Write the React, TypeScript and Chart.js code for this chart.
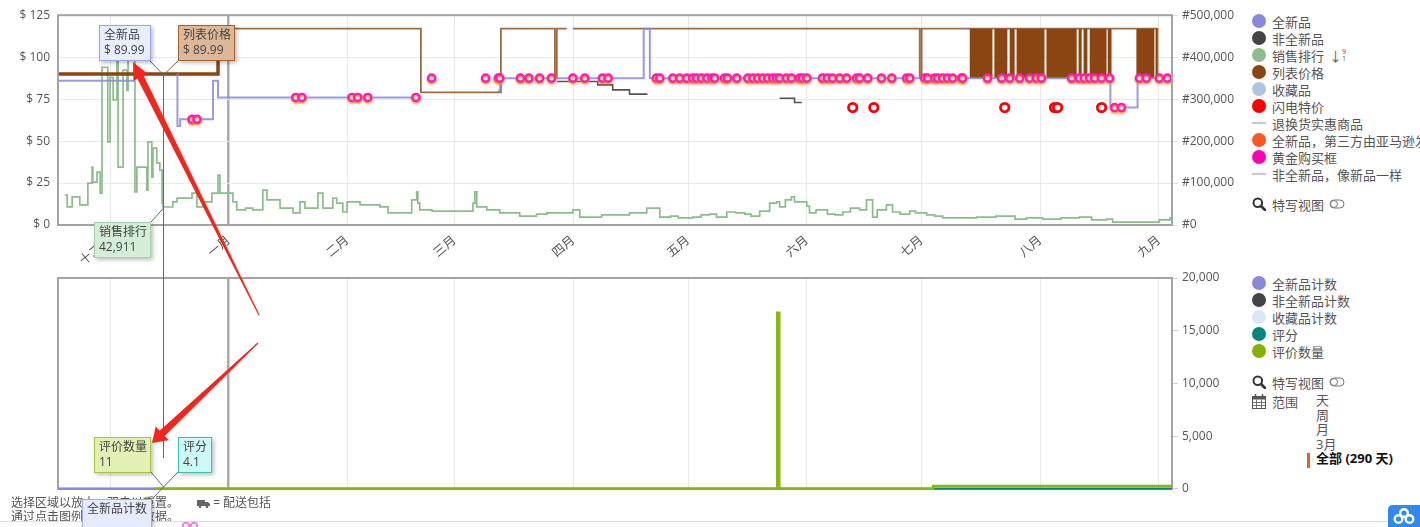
import React, { useEffect, useRef } from "react";
import { Chart, registerables } from "chart.js";

Chart.register(...registerables);

// ------------------------------------------------------------------ data
const TOTAL_DAYS = 291;
const MONTH_TICK_DAYS = [13.6, 44.6, 75.6, 103.6, 134.6, 164.6, 195.6, 225.6, 256.6, 287.6];
const MONTH_LABELS = ["十二月", "一月", "二月", "三月", "四月", "五月", "六月", "七月", "八月", "九月"];
const YEAR_BOUNDARY_DAY = 44.6;

const PRICE_TICKS = [0, 25, 50, 75, 100, 125];
const RANK_TICKS = [0, 100000, 200000, 300000, 400000, 500000];
const COUNT_TICKS = [0, 5000, 10000, 15000, 20000];

// 全新品 (new) price, step series, null = no offer
const NEW_PRICE_DAYS = [0, 20.1, 20.2, 31.1, 31.2, 31.9, 40.5, 41.8, 94.6, 94.7, 114.9, 115.5, 153.0, 154.6, 274.9, 282.0, 291];
const NEW_PRICE_VALUES = [85.99, 85.99, null, 89.99, 58.99, 62.99, 85.99, 75.99, 75.99, null, 79.99, 87.49, 116.99, 87.49, 69.99, 87.49, 87.49];

// 列表价格 (list price)
const LIST_PRICE_DAYS = [0, 41.8, 94.8, 115.7, 129.8, 130.3, 132.9, 133.0, 134.5, 225.1, 225.6, 287.2, 291];
const LIST_PRICE_VALUES = [89.99, 116.99, 78.99, 116.99, 87.49, 116.99, 116.99, null, 116.99, 87.49, 116.99, 87.49, 87.49];

// 列表价格 rapid flip-flop period
const LIST_FLIP_DAYS = [238.1, 244.1, 244.6, 248.0, 248.6, 249.9, 250.4, 257.7, 258.2, 266.1, 266.6, 267.4, 267.9, 268.9, 269.5, 273.9, 274.2, 275.2, 281.7, 286.4, 286.7, 287.2];
const LIST_FLIP_VALUES = [116.99, 87.49, 116.99, 87.49, 116.99, 87.49, 116.99, 87.49, 116.99, 87.49, 116.99, 87.49, 116.99, 87.49, 116.99, 87.49, 116.99, 87.49, 116.99, 87.49, 116.99, 87.49];
const LIST_FLIP_FLOOR = 87.49;

// 非全新品 (used)
const USED_DAYS = [130.3, 141.0, 144.9, 149.3, 154.0, 154.1, 188.5, 192.4, 194.3];
const USED_VALUES = [85.49, 83.49, 80.49, 77.99, 77.99, null, 75.49, 72.99, 72.99];

// 黄金购买框 (buy box) points, grouped by price
const BUYBOX_LOW_PRICE = 62.99;
const BUYBOX_LOW_DAYS = [35.0, 36.3];
const BUYBOX_MID_PRICE = 75.99;
const BUYBOX_MID_DAYS = [62.1, 63.7, 76.8, 78.3, 80.9, 93.5];
const BUYBOX_HIGH_PRICE = 87.49;
const BUYBOX_HIGH_DAYS = [97.6, 111.7, 115.0, 115.4, 120.8, 123.0, 125.8, 128.9, 134.5, 137.6, 142.2, 143.7, 156.3, 157.2, 160.6, 162.4, 164.2, 165.8, 166.8, 168.1, 169.5, 170.8, 171.5, 174.1, 174.9, 177.3, 180.2, 181.5, 182.8, 184.1, 185.4, 186.7, 187.7, 188.5, 190.3, 191.6, 193.7, 194.5, 195.6, 199.7, 201.0, 202.3, 204.2, 206.0, 208.6, 209.4, 211.5, 215.1, 217.8, 221.7, 222.5, 226.4, 227.2, 229.0, 229.8, 231.1, 232.4, 233.7, 236.0, 236.3, 242.8, 246.5, 248.6, 251.2, 253.8, 255.6, 256.9, 264.8, 266.8, 268.1, 269.5, 270.8, 272.6, 274.7, 282.5, 284.3, 287.7, 289.8];
const BUYBOX_DIP_PRICE = 69.99;
const BUYBOX_DIP_DAYS = [276.0, 277.8];

// 闪电特价 (lightning deals)
const LIGHTNING_PRICE = 69.99;
const LIGHTNING_DAYS = [207.6, 213.1, 247.3, 260.3, 261.1, 272.6];

// 销售排行 (sales rank)
const RANK_DAYS = [1.8, 2.4, 3.7, 5.7, 7.8, 8.9, 9.1, 10.2, 11.0, 11.5, 13.0, 13.6, 14.4, 15.4, 15.7, 17.0, 18.0, 18.3, 19.6, 20.1, 20.6, 23.2, 23.5, 24.5, 24.8, 25.8, 26.6, 27.2, 27.4, 30.0, 31.1, 35.0, 36.3, 37.9, 40.2, 41.8, 42.3, 45.7, 46.7, 49.0, 50.9, 53.5, 54.6, 58.0, 61.4, 63.2, 64.5, 67.9, 69.2, 71.8, 72.8, 74.4, 75.5, 78.9, 84.1, 86.2, 92.4, 93.7, 94.0, 94.5, 97.7, 108.4, 108.9, 109.4, 112.0, 115.4, 120.6, 125.0, 127.7, 134.5, 136.3, 142.0, 149.3, 153.8, 157.2, 160.0, 162.0, 165.8, 168.0, 170.2, 172.0, 174.7, 177.0, 179.4, 181.0, 183.3, 185.9, 187.7, 188.5, 190.0, 191.6, 192.4, 195.6, 196.3, 198.0, 201.0, 203.0, 205.0, 207.0, 209.4, 211.2, 212.8, 214.0, 216.4, 218.0, 220.0, 222.5, 224.0, 226.9, 229.0, 231.1, 235.0, 240.0, 245.0, 250.0, 253.0, 257.2, 262.0, 266.8, 270.0, 273.9, 275.5, 283.3, 287.7, 290.5, 291];
const RANK_VALUES = [71000, 43000, 67000, 48000, 100000, 138000, 102000, 126000, 76000, 376000, 198000, 352000, 298000, 393000, 138000, 369000, 321000, 410000, 400000, 79000, 138000, 83000, 198000, 114000, 183000, 148000, 131000, 52000, 42911, 55000, 64000, 76000, 43000, 55000, 76000, 119000, 76000, 55000, 36000, 40000, 36000, 83000, 60000, 40000, 29000, 55000, 40000, 76000, 40000, 64000, 52000, 31000, 55000, 48000, 43000, 29000, 60000, 79000, 52000, 36000, 33000, 52000, 79000, 43000, 36000, 29000, 21000, 26000, 29000, 36000, 19000, 24000, 29000, 40000, 19000, 21000, 17000, 19000, 24000, 26000, 19000, 31000, 29000, 26000, 21000, 33000, 52000, 55000, 43000, 60000, 67000, 55000, 45000, 29000, 36000, 26000, 24000, 31000, 40000, 36000, 60000, 19000, 36000, 48000, 31000, 26000, 33000, 29000, 24000, 21000, 17000, 17000, 19000, 21000, 14000, 17000, 14000, 17000, 19000, 12000, 14000, 7000, 7000, 12000, 17000, 17000];

// lower chart: 评价数量 / 评分 / 全新品计数
const REVIEW_DAYS = [25.3, 187.9, 188.4, 228.6, 291];
const REVIEW_COUNTS = [11, 16700, 11, 250, 250];
const RATING_DAYS = [25.3, 291];
const RATING_VALUES = [4.1, 4.1];
const NEW_COUNT_DAYS = [0, 291];
const NEW_COUNT_VALUES = [3, 3];

// ------------------------------------------------------------------ helpers
const FONT = '"Open Sans", "Noto Sans CJK SC", sans-serif';
Chart.defaults.font.family = FONT;
Chart.defaults.font.size = 12;
Chart.defaults.color = "#555";

const pts = (days: number[], vals: (number | null)[]) => days.map((d, i) => ({ x: d, y: vals[i] }));
const flat = (days: number[], v: number) => days.map((d) => ({ x: d, y: v }));

const drawFrame = (chart: any) => {
  const { ctx, chartArea: a } = chart;
  ctx.save();
  ctx.strokeStyle = "#a3a3a3";
  ctx.lineWidth = 2;
  ctx.strokeRect(a.left, a.top, a.right - a.left, a.bottom - a.top);
  ctx.restore();
};
const frameOver = { id: "frameOver", afterDraw: drawFrame };
const frameUnder = { id: "frameUnder", beforeDatasetsDraw: drawFrame };

const glow = {
  id: "glow",
  beforeDatasetDraw(chart: any, args: any) {
    const ds = chart.data.datasets[args.index];
    if (ds.glow) {
      const c = chart.ctx;
      c.save();
      c.shadowColor = ds.glow;
      c.shadowOffsetY = 1.5;
      c.shadowBlur = 2;
    }
  },
  afterDatasetDraw(chart: any, args: any) {
    const ds = chart.data.datasets[args.index];
    if (ds.glow) chart.ctx.restore();
  },
};

const monthAxis = (showLabels: boolean, height: number) => ({
  type: "linear",
  min: 0,
  max: TOTAL_DAYS,
  afterBuildTicks: (s: any) => {
    s.ticks = MONTH_TICK_DAYS.map((v) => ({ value: v }));
  },
  afterFit: (s: any) => {
    s.height = height;
  },
  ticks: {
    display: showLabels,
    autoSkip: false,
    minRotation: 40,
    maxRotation: 40,
    padding: 8,
    color: "#555",
    font: { size: 12.5 },
    callback: (v: any) => {
      const i = MONTH_TICK_DAYS.indexOf(v);
      return i >= 0 ? MONTH_LABELS[i] : "";
    },
  },
  grid: {
    drawTicks: false,
    color: (c: any) => (c.tick && c.tick.value === YEAR_BOUNDARY_DAY ? "#ababab" : "#e8e8e8"),
    lineWidth: (c: any) => (c.tick && c.tick.value === YEAR_BOUNDARY_DAY ? 2.5 : 1),
  },
  border: { display: false },
});

const stepLine = (data: any[], color: string, width: number, axis: string, extra: any = {}) => ({
  type: "line",
  data,
  yAxisID: axis,
  borderColor: color,
  borderWidth: width,
  stepped: true,
  pointRadius: 0,
  pointHoverRadius: 0,
  fill: false,
  spanGaps: false,
  ...extra,
});

const markers = (data: any[], color: string, radius: number, bw: number, extra: any = {}) => ({
  type: "line",
  data,
  yAxisID: "y",
  showLine: false,
  pointRadius: radius,
  pointBorderWidth: bw,
  pointBorderColor: color,
  pointBackgroundColor: "#ffffff",
  borderColor: color,
  backgroundColor: "#ffffff",
  ...extra,
});

// ------------------------------------------------------------------ charts
function PriceChart() {
  const ref = useRef<HTMLCanvasElement>(null);
  useEffect(() => {
    const buyBox = [
      ...flat(BUYBOX_LOW_DAYS, BUYBOX_LOW_PRICE),
      ...flat(BUYBOX_MID_DAYS, BUYBOX_MID_PRICE),
      ...flat(BUYBOX_HIGH_DAYS, BUYBOX_HIGH_PRICE),
      ...flat(BUYBOX_DIP_DAYS, BUYBOX_DIP_PRICE),
    ];
    const chart = new Chart(ref.current as any, {
      type: "line",
      data: {
        datasets: [
          markers(buyBox, "#ff1cb0", 3.6, 2.4, { glow: "rgba(255,140,40,0.9)" }),
          markers(flat(LIGHTNING_DAYS, LIGHTNING_PRICE), "#ff0000", 4.2, 2.8),
          stepLine(pts(NEW_PRICE_DAYS, NEW_PRICE_VALUES), "rgba(136,136,221,0.85)", 2, "y"),
          stepLine(pts(USED_DAYS, USED_VALUES), "#555555", 1.6, "y"),
          stepLine(pts(LIST_PRICE_DAYS, LIST_PRICE_VALUES), "rgba(139,69,19,0.8)", 1.8, "y", {
            segment: {
              borderWidth: (c: any) => (c.p0.parsed.x < 41 ? 3.5 : undefined),
              borderColor: (c: any) => (c.p0.parsed.x < 41 ? "#8b4513" : undefined),
            },
          }),
          stepLine(pts(LIST_FLIP_DAYS, LIST_FLIP_VALUES), "#8b4513", 0, "y", {
            fill: { target: { value: LIST_FLIP_FLOOR } },
            backgroundColor: "#8b4513",
          }),
          stepLine(pts(RANK_DAYS, RANK_VALUES), "rgba(134,184,134,0.95)", 1.7, "yR"),
        ] as any,
      },
      options: {
        responsive: false,
        animation: false,
        events: [],
        layout: { padding: { top: 15, left: 0, right: 0, bottom: 0 } },
        plugins: { legend: { display: false }, tooltip: { enabled: false } },
        scales: {
          x: monthAxis(true, 40) as any,
          y: {
            position: "left",
            min: 0,
            max: 125,
            afterBuildTicks: (s: any) => {
              s.ticks = PRICE_TICKS.map((v) => ({ value: v }));
            },
            afterFit: (s: any) => {
              s.width = 58;
            },
            ticks: { padding: 8, color: "#555", callback: (v: any) => "$ " + v },
            grid: { drawTicks: false, color: "#e8e8e8" },
            border: { display: false },
          },
          yR: {
            position: "right",
            min: 0,
            max: 500000,
            afterBuildTicks: (s: any) => {
              s.ticks = RANK_TICKS.map((v) => ({ value: v }));
            },
            afterFit: (s: any) => {
              s.width = 78;
            },
            ticks: { padding: 4, color: "#555", callback: (v: any) => "#" + Number(v).toLocaleString("en-US") },
            grid: { drawOnChartArea: false, tickLength: 6, color: "#cfe8cf" },
            border: { display: false },
          },
        } as any,
      },
      plugins: [frameOver, glow],
    });
    return () => chart.destroy();
  }, []);
  return <canvas ref={ref} width={1250} height={265} style={{ position: "absolute", left: 0, top: 0, width: 1250, height: 265 }} />;
}

function CountChart() {
  const ref = useRef<HTMLCanvasElement>(null);
  useEffect(() => {
    const clip = { left: 0, top: 0, right: 0, bottom: 5 };
    const chart = new Chart(ref.current as any, {
      type: "line",
      data: {
        datasets: [
          stepLine(pts(REVIEW_DAYS, REVIEW_COUNTS), "rgb(138,182,16)", 2.6, "yC", { clip }),
          stepLine(pts(RATING_DAYS, RATING_VALUES), "rgb(0,137,123)", 1.5, "yC", { clip }),
          stepLine(pts(NEW_COUNT_DAYS, NEW_COUNT_VALUES), "rgb(136,136,221)", 2.6, "yC", { clip }),
        ] as any,
      },
      options: {
        responsive: false,
        animation: false,
        events: [],
        layout: { padding: { top: 13, left: 58, right: 0, bottom: 0 } },
        plugins: { legend: { display: false }, tooltip: { enabled: false } },
        scales: {
          x: monthAxis(false, 11) as any,
          yC: {
            position: "right",
            min: 0,
            max: 20000,
            afterBuildTicks: (s: any) => {
              s.ticks = COUNT_TICKS.map((v) => ({ value: v }));
            },
            afterFit: (s: any) => {
              s.width = 78;
            },
            ticks: { padding: 4, color: "#555", callback: (v: any) => Number(v).toLocaleString("en-US") },
            grid: { drawOnChartArea: false, tickLength: 6, color: "#d0d0d0" },
            border: { display: false },
          },
        } as any,
      },
      plugins: [frameUnder],
    });
    return () => chart.destroy();
  }, []);
  return <canvas ref={ref} width={1250} height={235} style={{ position: "absolute", left: 0, top: 265, width: 1250, height: 235 }} />;
}

// ------------------------------------------------------------------ overlays
const TOP_LEGEND = [
  { label: "全新品", color: "#8888dd", kind: "dot", y: 21 },
  { label: "非全新品", color: "#444444", kind: "dot", y: 38 },
  { label: "销售排行", color: "#8fbc8f", kind: "dot", y: 55, sort: true },
  { label: "列表价格", color: "#8b4513", kind: "dot", y: 72 },
  { label: "收藏品", color: "#b0c4de", kind: "dot", y: 89 },
  { label: "闪电特价", color: "#ff0000", kind: "dot", y: 106 },
  { label: "退换货实惠商品", color: "#c8c8c8", kind: "line", y: 123 },
  { label: "全新品，第三方由亚马逊发货", color: "#ff5722", kind: "dot", y: 140 },
  { label: "黄金购买框", color: "#ff00b4", kind: "dot", y: 157 },
  { label: "非全新品，像新品一样", color: "#c8c8c8", kind: "line", y: 174 },
];
const LOW_LEGEND = [
  { label: "全新品计数", color: "#8888dd", kind: "dot", y: 283 },
  { label: "非全新品计数", color: "#444444", kind: "dot", y: 300 },
  { label: "收藏品计数", color: "#dbe6f7", kind: "dot", y: 317 },
  { label: "评分", color: "#00897b", kind: "dot", y: 334 },
  { label: "评价数量", color: "#88b000", kind: "dot", y: 351 },
];

function LegendRow({ item }: { item: any }) {
  return (
    <div style={{ position: "absolute", left: 1252, top: item.y - 9, height: 18, display: "flex", alignItems: "center", whiteSpace: "nowrap" }}>
      {item.kind === "dot" ? (
        <span style={{ width: 14, height: 14, borderRadius: 7, background: item.color, display: "inline-block" }} />
      ) : (
        <span style={{ width: 14, height: 2, background: item.color, display: "inline-block" }} />
      )}
      <span style={{ marginLeft: 6, fontSize: 13, color: "#555" }}>{item.label}</span>
      {item.sort ? (
        <span style={{ marginLeft: 5, display: "inline-flex", alignItems: "center", color: "#555" }}>
          <span style={{ fontSize: 13 }}>↓</span>
          <span style={{ display: "inline-flex", flexDirection: "column", fontSize: 7, lineHeight: "7px" }}>
            <span>9</span>
            <span>1</span>
          </span>
        </span>
      ) : null}
    </div>
  );
}

function Magnifier() {
  return (
    <svg width="14" height="14" viewBox="0 0 14 14" style={{ display: "block" }}>
      <circle cx="5.8" cy="5.8" r="4.3" stroke="#333" strokeWidth="2" fill="none" />
      <line x1="9" y1="9" x2="13" y2="13" stroke="#333" strokeWidth="2.6" strokeLinecap="round" />
    </svg>
  );
}
function Toggle() {
  return (
    <svg width="16" height="10" viewBox="0 0 16 10" style={{ display: "block", marginLeft: 5 }}>
      <rect x="1" y="1" width="14" height="8" rx="4" stroke="#777" fill="none" />
      <circle cx="5" cy="5" r="3.5" stroke="#777" fill="#fff" />
    </svg>
  );
}
function CalendarIcon() {
  return (
    <svg width="14" height="15" viewBox="0 0 14 15" style={{ display: "block" }}>
      <rect x="0.5" y="2.5" width="13" height="12" fill="none" stroke="#555" />
      <rect x="0.5" y="2.5" width="13" height="3" fill="#555" />
      <line x1="3.5" y1="0" x2="3.5" y2="3" stroke="#555" strokeWidth="1.5" />
      <line x1="10.5" y1="0" x2="10.5" y2="3" stroke="#555" strokeWidth="1.5" />
      <line x1="0.5" y1="8.5" x2="13.5" y2="8.5" stroke="#555" strokeWidth="0.8" />
      <line x1="0.5" y1="11.5" x2="13.5" y2="11.5" stroke="#555" strokeWidth="0.8" />
      <line x1="4.5" y1="5.5" x2="4.5" y2="14.5" stroke="#555" strokeWidth="0.8" />
      <line x1="9.5" y1="5.5" x2="9.5" y2="14.5" stroke="#555" strokeWidth="0.8" />
    </svg>
  );
}

function Tip({ left, top, w, h, bg, border, lines }: any) {
  return (
    <div
      style={{
        position: "absolute",
        left,
        top,
        width: w,
        height: h,
        boxSizing: "border-box",
        background: bg,
        border: `1px solid ${border}`,
        boxShadow: "2px 2px 4px rgba(0,0,0,0.25)",
        padding: "1px 0 0 4px",
        fontSize: 12,
        lineHeight: "15px",
        color: "#444",
        whiteSpace: "nowrap",
      }}
    >
      {lines.map((l: string, i: number) => (
        <div key={i}>{l}</div>
      ))}
    </div>
  );
}

function arrowPoints(tx: number, ty: number, px: number, py: number, tw: number, sw: number, hl: number, hh: number) {
  const dx = px - tx;
  const dy = py - ty;
  const len = Math.hypot(dx, dy);
  const ux = dx / len;
  const uy = dy / len;
  const nx = -uy;
  const ny = ux;
  const bx = px - ux * hl;
  const by = py - uy * hl;
  const p = [
    [tx + (nx * tw) / 2, ty + (ny * tw) / 2],
    [bx + (nx * sw) / 2, by + (ny * sw) / 2],
    [bx + nx * hh, by + ny * hh],
    [px, py],
    [bx - nx * hh, by - ny * hh],
    [bx - (nx * sw) / 2, by - (ny * sw) / 2],
    [tx - (nx * tw) / 2, ty - (ny * tw) / 2],
  ];
  return p.map((q) => q[0].toFixed(1) + "," + q[1].toFixed(1)).join(" ");
}

function Overlay() {
  return (
    <svg width="1420" height="527" style={{ position: "absolute", left: 0, top: 0, pointerEvents: "none" }}>
      <g stroke="#666" strokeWidth="1" fill="none">
        <line x1="163.5" y1="75" x2="163.5" y2="458" />
        <line x1="150" y1="61" x2="163.5" y2="75" />
        <line x1="178" y1="61" x2="163.5" y2="75" />
        <line x1="151" y1="222" x2="163.5" y2="208" />
        <line x1="151" y1="472" x2="163.5" y2="487" />
        <line x1="178" y1="472" x2="163.5" y2="487" />
        <line x1="153" y1="498" x2="163.5" y2="487" />
      </g>
      <line x1="0" y1="521.5" x2="1388" y2="521.5" stroke="#dddddd" strokeWidth="1" />
      <circle cx="186" cy="526" r="3.2" stroke="#ff7ad0" strokeWidth="2" fill="#fff" />
      <circle cx="194" cy="526" r="3.2" stroke="#ff7ad0" strokeWidth="2" fill="#fff" />
    </svg>
  );
}

function Arrows() {
  return (
    <svg width="1420" height="527" style={{ position: "absolute", left: 0, top: 0, pointerEvents: "none" }}>
      <polygon points={arrowPoints(259, 315, 133, 62, 1.2, 7, 17, 8)} fill="#f4261b" />
      <polygon points={arrowPoints(258, 343, 152, 443, 1.2, 7.5, 14, 9.5)} fill="#f4261b" />
    </svg>
  );
}

export default function App() {
  return (
    <div
      style={{
        position: "fixed",
        left: 0,
        top: 0,
        width: 1420,
        height: 527,
        overflow: "hidden",
        background: "#fff",
        fontFamily: FONT,
        color: "#555",
      }}
    >
      <PriceChart />
      <CountChart />

      {TOP_LEGEND.map((it) => (
        <LegendRow key={it.label} item={it} />
      ))}
      <div style={{ position: "absolute", left: 1252, top: 195, height: 18, display: "flex", alignItems: "center", whiteSpace: "nowrap" }}>
        <Magnifier />
        <span style={{ marginLeft: 6, fontSize: 13 }}>特写视图</span>
        <Toggle />
      </div>

      {LOW_LEGEND.map((it) => (
        <LegendRow key={it.label} item={it} />
      ))}
      <div style={{ position: "absolute", left: 1252, top: 373, height: 18, display: "flex", alignItems: "center", whiteSpace: "nowrap" }}>
        <Magnifier />
        <span style={{ marginLeft: 6, fontSize: 13 }}>特写视图</span>
        <Toggle />
      </div>
      <div style={{ position: "absolute", left: 1252, top: 392, height: 18, display: "flex", alignItems: "center", whiteSpace: "nowrap" }}>
        <CalendarIcon />
        <span style={{ marginLeft: 6, fontSize: 13 }}>范围</span>
      </div>
      <div style={{ position: "absolute", left: 1316, top: 393, fontSize: 13, lineHeight: "14.6px", color: "#555" }}>
        <div>天</div>
        <div>周</div>
        <div>月</div>
        <div>3月</div>
        <div style={{ fontWeight: 700, color: "#111" }}>全部 (290 天)</div>
      </div>
      <div style={{ position: "absolute", left: 1307, top: 453, width: 3, height: 15, background: "#f0582a" }} />

      <div style={{ position: "absolute", left: 11, top: 496, fontSize: 12, lineHeight: "14px", color: "#555", whiteSpace: "nowrap" }}>
        <div>
          选择区域以放大，双击以重置。
          <span style={{ display: "inline-block", width: 18 }} />
          <svg width="13" height="9" viewBox="0 0 13 9" style={{ verticalAlign: "middle" }}>
            <rect x="0" y="1" width="8" height="6" fill="#666" />
            <path d="M8 3 H11 L13 5 V7 H8 Z" fill="#666" />
            <circle cx="3" cy="7.8" r="1.3" fill="#666" />
            <circle cx="10" cy="7.8" r="1.3" fill="#666" />
          </svg>
          <span> = 配送包括</span>
        </div>
        <div>通过点击图例切换以显示数据。</div>
      </div>

      <Overlay />

      <Tip left={99} top={25} w={52} h={36} bg="#e9eeff" border="#9ba3ec" lines={["全新品", "$ 89.99"]} />
      <Tip left={178} top={25} w={57} h={36} bg="#dcb898" border="#a5612c" lines={["列表价格", "$ 89.99"]} />
      <Tip left={94} top={222} w={57} h={36} bg="#d3edd6" border="#a2d0a8" lines={["销售排行", "42,911"]} />
      <Tip left={94} top={437} w={57} h={36} bg="#e2f0b3" border="#a6c43c" lines={["评价数量", "11"]} />
      <Tip left={178} top={437} w={34} h={36} bg="#cdfaf6" border="#38c0b3" lines={["评分", "4.1"]} />
      <Tip left={82} top={499} w={70} h={30} bg="#e7ebff" border="#a4abeb" lines={["全新品计数"]} />

      <Arrows />

      <svg width="32" height="22" viewBox="0 0 32 22" style={{ position: "absolute", left: 1388, top: 505 }}>
        <path d="M5 0 H32 V22 H0 V5 Q0 0 5 0 Z" fill="#2f8af0" />
        <circle cx="16" cy="8" r="3.8" stroke="#fff" strokeWidth="2.4" fill="none" />
        <circle cx="10.5" cy="14" r="3.8" stroke="#fff" strokeWidth="2.4" fill="none" />
        <circle cx="21.5" cy="14" r="3.8" stroke="#fff" strokeWidth="2.4" fill="none" />
      </svg>
    </div>
  );
}
